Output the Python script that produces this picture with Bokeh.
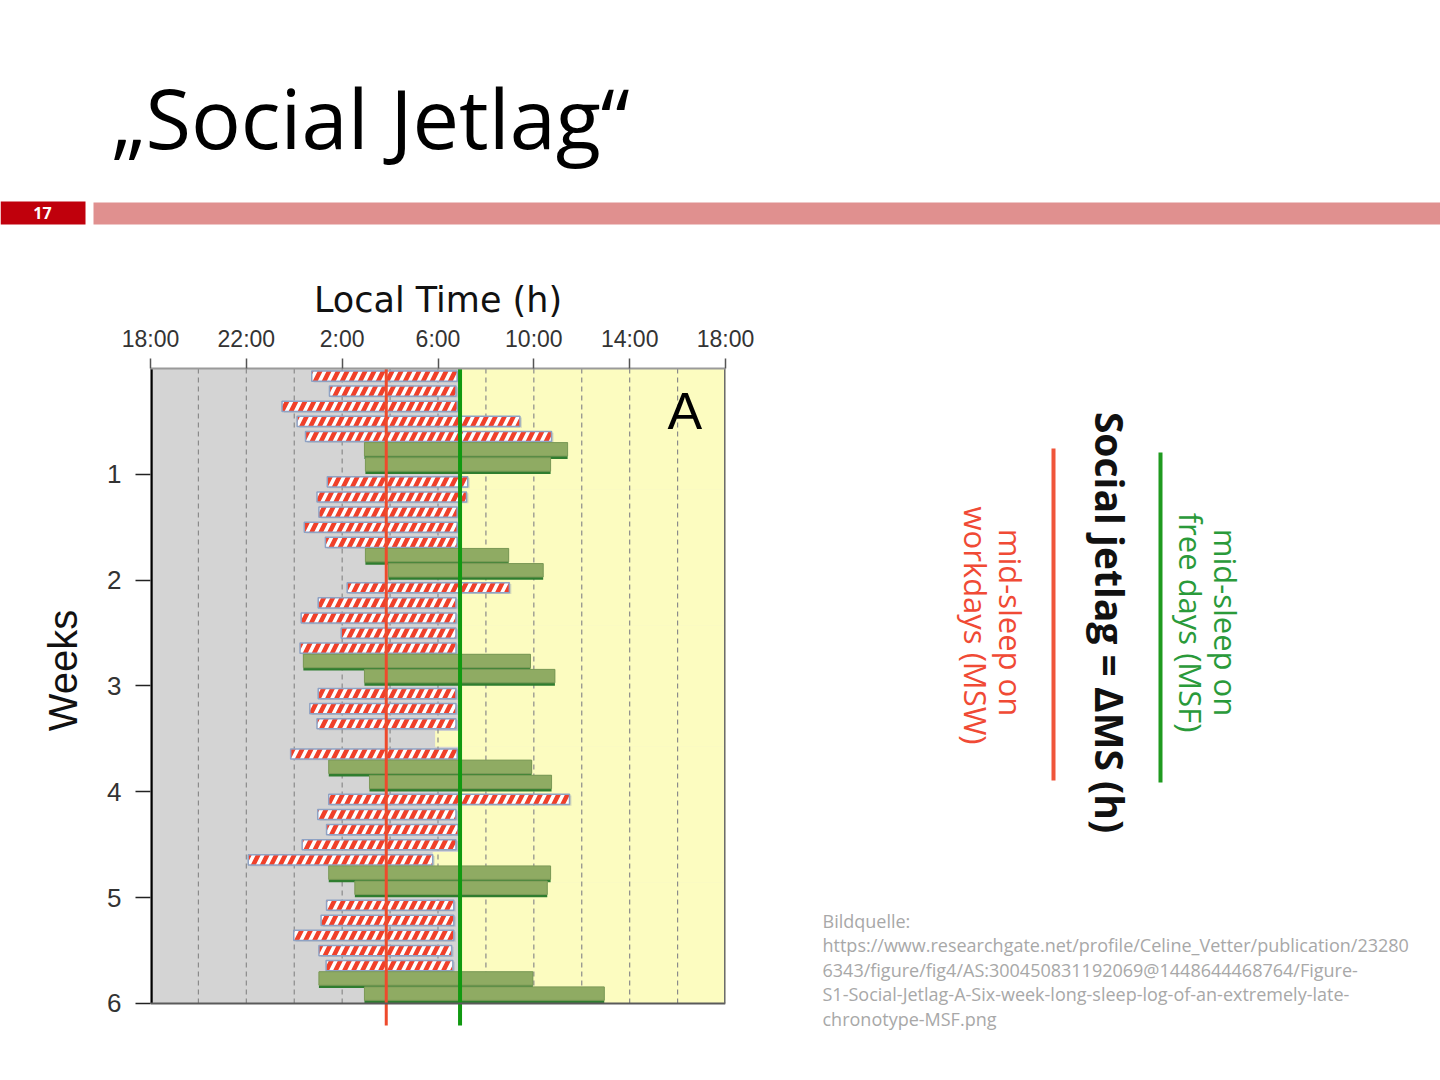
import math
from bokeh.plotting import figure
from bokeh.layouts import column, row
from bokeh.models import Range1d, FixedTicker, ColumnDataSource
from bokeh.core.properties import value
from bokeh.embed import file_html
from bokeh.resources import INLINE

# ---------------- data ----------------
day_type = ["W", "W", "W", "W", "W", "F", "F",
            "W", "W", "W", "W", "W", "F", "F",
            "W", "W", "W", "W", "W", "F", "F",
            "W", "W", "W", "W", "W", "F", "F",
            "W", "W", "W", "W", "W", "F", "F",
            "W", "W", "W", "W", "W", "F", "F"]
# sleep onset / offset as clock hours (None = no record)
sleep_onset = [0.73, 1.47, 23.49, 0.12, 0.47, 2.93, 2.97,
               1.38, 0.95, 1.03, 0.42, 1.30, 2.97, 3.93,
               2.21, 1.00, 0.29, 1.96, 0.24, 0.38, 2.93,
               1.00, 0.65, 0.95, None, 23.85, 1.44, 3.14,
               1.44, 0.98, 1.35, 0.33, 22.08, 1.44, 2.53,
               1.35, 1.12, 23.98, 1.03, 1.33, 1.03, 2.93]
sleep_offset = [6.80, 6.75, 6.80, 9.42, 10.74, 11.41, 10.70,
                7.24, 7.19, 6.80, 6.80, 6.80, 8.95, 10.39,
                8.98, 6.75, 6.75, 6.75, 6.75, 9.86, 10.88,
                6.75, 6.75, 6.75, None, 6.80, 9.91, 10.74,
                11.49, 6.75, 6.84, 6.75, 5.78, 10.70, 10.56,
                6.66, 6.66, 6.66, 6.57, 6.62, 9.96, 12.94]
# clock hour at which the light (yellow) period starts on each day
light_onset = [6.95, 6.95, 6.95, 6.95, 6.95, 6.95, 6.95,
               6.95, 6.95, 6.95, 6.95, 6.95, 6.95, 6.95,
               6.95, 6.95, 6.95, 6.95, 6.95, 6.95, 6.95,
               6.95, 6.95, 6.95, 5.88, 6.95, 6.95, 6.95,
               6.95, 6.95, 6.95, 6.95, 5.78, 6.95, 6.95,
               6.95, 6.95, 6.95, 6.95, 6.95, 6.95, 6.95]
msw = 3.84   # mid-sleep on workdays (clock h)
msf = 6.92   # mid-sleep on free days (clock h)

x_ticks = [18, 22, 26, 30, 34, 38, 42]
x_tick_labels = ["18:00", "22:00", "2:00", "6:00", "10:00", "14:00", "18:00"]
grid_hours = [20, 22, 24, 26, 28, 30, 32, 34, 36, 38, 40]
week_ticks = [1, 2, 3, 4, 5, 6]
n_weeks = 6

title_text = "\u201eSocial Jetlag\u201c"
page_no = "17"
formula_text = "Social jetlag = \u0394MS (h)"
msf_lines = ["mid-sleep on", "free days (MSF)"]
msw_lines = ["mid-sleep on", "workdays (MSW)"]
source_lines = ["Bildquelle:",
                "https://www.researchgate.net/profile/Celine_Vetter/publication/23280",
                "6343/figure/fig4/AS:300450831192069@1448644468764/Figure-",
                "S1-Social-Jetlag-A-Six-week-long-sleep-log-of-an-extremely-late-",
                "chronotype-MSF.png"]

# ---------------- helpers ----------------
def to_axis(h):
    return h + 24 if h < 18 else h

ROW = 1.0 / 7.0

# ---------------- header figure ----------------
W_TOTAL = 1440
H_HEAD = 260
head = figure(width=W_TOTAL, height=H_HEAD, x_range=Range1d(0, W_TOTAL),
              y_range=Range1d(H_HEAD, 0), output_backend="svg",
              toolbar_location=None, min_border=0)
head.axis.visible = False
head.grid.visible = False
head.outline_line_color = None
head.quad(left=[0], right=[85], top=[201], bottom=[224], color="#c0000c", line_color=None)
head.quad(left=[93], right=[W_TOTAL], top=[202], bottom=[224], color="#e0908f", line_color=None)
head.text(x=[42], y=[212], text=[page_no], text_color="white", text_font=value("Open Sans"),
          text_font_size="16px", text_font_style="bold", text_align="center", text_baseline="middle")
head.text(x=[111], y=[116], text=[title_text], text_color="black", text_font=value("Open Sans"),
          text_font_size="83px", text_align="left", text_baseline="alphabetic")

# ---------------- layout geometry ----------------
WK_W = 100         # strip holding the "Weeks" title
CH_W = 700         # chart figure
CH_H = 810
B_TOP, B_BOT = 108, 20
PX_PER_WEEK = 105.83
frame_top = H_HEAD + B_TOP
frame_bot = H_HEAD + CH_H - B_BOT
y_end = (frame_bot - frame_top) / PX_PER_WEEK
line_end = 6.208   # mid-sleep lines run slightly below the last week

# ---------------- "Weeks" strip ----------------
wk = figure(width=WK_W, height=CH_H, x_range=Range1d(0, WK_W),
            y_range=Range1d(frame_bot, frame_top), output_backend="svg",
            toolbar_location=None, min_border_left=0, min_border_right=0,
            min_border_top=B_TOP, min_border_bottom=B_BOT)
wk.axis.visible = False
wk.grid.visible = False
wk.outline_line_color = None
wk.text(x=[62], y=[670], text=["Weeks"], angle=math.pi / 2, text_font=value("Liberation Sans"),
        text_font_size="40px", text_color="#111111", text_align="center", text_baseline="middle")

# ---------------- chart figure ----------------
p = figure(width=CH_W, height=CH_H, x_range=Range1d(18, 42), y_range=Range1d(y_end, 0),
           x_axis_location="above", y_axis_location="left",
           output_backend="svg", toolbar_location=None,
           min_border_left=150 - WK_W, min_border_right=75, min_border_top=B_TOP,
           min_border_bottom=B_BOT)
p.grid.visible = False
p.outline_line_color = None
p.background_fill_color = "white"

xa = p.xaxis[0]
xa.ticker = FixedTicker(ticks=x_ticks)
xa.major_label_overrides = {t: lab for t, lab in zip(x_ticks, x_tick_labels)}
xa.minor_tick_line_color = None
xa.major_tick_in = 0
xa.major_tick_out = 10
xa.major_tick_line_color = "#555555"
xa.major_tick_line_width = 1.5
xa.axis_line_color = "#9a9a9a"
xa.axis_line_width = 2
xa.major_label_text_font = "Liberation Sans"
xa.major_label_text_font_size = "23px"
xa.major_label_text_color = "#333333"
xa.major_label_standoff = 7
xa.axis_label = "Local Time (h)"
xa.axis_label_text_font = "DejaVu Sans"
xa.axis_label_text_font_size = "35px"
xa.axis_label_text_font_style = "normal"
xa.axis_label_text_color = "#111111"
xa.axis_label_standoff = 3

ya = p.yaxis[0]
ya.ticker = FixedTicker(ticks=week_ticks)
ya.minor_tick_line_color = None
ya.major_tick_in = 0
ya.major_tick_out = 15
ya.major_tick_line_color = "#222222"
ya.major_tick_line_width = 1.5
ya.axis_line_color = None
ya.major_label_text_font = "Liberation Sans"
ya.major_label_text_font_size = "26px"
ya.major_label_text_color = "#333333"
ya.major_label_standoff = 14

# background: grey night, yellow day
p.quad(left=[18], right=[42], top=[0], bottom=[n_weeks], color="#d4d4d4", line_color=None)
yl = [to_axis(h) for h in light_onset]
ytop = [d * ROW - 0.003 for d in range(42)]
ybot = [(d + 1) * ROW + 0.003 for d in range(42)]
ybot[-1] = n_weeks
ytop[0] = 0
p.quad(left=yl, right=[42] * 42, top=ytop, bottom=ybot, color="#fcfcc0", line_color=None)

# dashed grid
p.segment(x0=grid_hours, x1=grid_hours, y0=[0] * len(grid_hours), y1=[n_weeks] * len(grid_hours),
          line_color="#8a8a8a", line_width=1.2, line_dash="5 4")

# bars
w_src = dict(l=[], r=[], t=[], b=[])
f_src = dict(l=[], r=[], t=[], b=[], bl=[])
for d in range(42):
    if sleep_onset[d] is None:
        continue
    l = to_axis(sleep_onset[d])
    r = to_axis(sleep_offset[d])
    c = (d + 0.5) * ROW
    if day_type[d] == "W":
        w_src["l"].append(l); w_src["r"].append(r)
        w_src["t"].append(c - 0.048); w_src["b"].append(c + 0.048)
    else:
        f_src["l"].append(l); f_src["r"].append(r)
        f_src["t"].append(d * ROW - 0.014); f_src["b"].append((d + 1) * ROW - 0.03)
        f_src["bl"].append((d + 1) * ROW - 0.003)

ws = ColumnDataSource(w_src)
fs = ColumnDataSource(f_src)
# shadows
p.quad(left="l", right="r", top="t", bottom="b", source=ColumnDataSource(dict(
    l=[v + 0.08 for v in w_src["l"]], r=[v + 0.08 for v in w_src["r"]],
    t=[v + 0.012 for v in w_src["t"]], b=[v + 0.012 for v in w_src["b"]])),
    fill_color="#9098a8", fill_alpha=0.35, line_color=None)
p.quad(left="l", right="r", top="t", bottom="b", source=ws,
       fill_color="white", hatch_pattern="right_diagonal_line", hatch_color="#f0402a",
       hatch_weight=4.5, hatch_scale=18, line_color="#8ea2c4", line_width=1.5)
p.quad(left="l", right="r", top="t", bottom="bl", source=fs,
       fill_color="#2f7d2f", line_color=None)
p.quad(left="l", right="r", top="t", bottom="b", source=fs,
       fill_color="#8fab63", line_color="#7d9a58", line_width=1)

# mid-sleep lines
p.segment(x0=[to_axis(msw)], x1=[to_axis(msw)], y0=[0], y1=[line_end], line_color="#ee4a2c", line_width=3)
p.segment(x0=[to_axis(msf)], x1=[to_axis(msf)], y0=[0], y1=[line_end], line_color="#119911", line_width=4)

# frame borders
p.segment(x0=[18.03], x1=[18.03], y0=[0], y1=[n_weeks], line_color="black", line_width=3)
p.segment(x0=[18], x1=[42], y0=[n_weeks], y1=[n_weeks], line_color="#5a5a5a", line_width=2)
p.segment(x0=[41.98], x1=[41.98], y0=[0], y1=[n_weeks], line_color="#6a6a6a", line_width=2)

p.text(x=[40.3], y=[0.40], text=["A"], text_font=value("Liberation Sans"), text_font_size="52px",
       text_color="black", text_align="center", text_baseline="middle")

# ---------------- right figure ----------------
RW = W_TOTAL - WK_W - CH_W
x0_rf = WK_W + CH_W
rf = figure(width=RW, height=CH_H, x_range=Range1d(x0_rf, x0_rf + RW),
            y_range=Range1d(frame_bot, frame_top), output_backend="svg",
            toolbar_location=None, min_border_left=0, min_border_right=0,
            min_border_top=B_TOP, min_border_bottom=B_BOT)
rf.axis.visible = False
rf.grid.visible = False
rf.outline_line_color = None

rot = -math.pi / 2
rf.text(x=[1110], y=[622], text=[formula_text], angle=rot, text_font=value("Open Sans"),
        text_font_size="39px", text_font_style="bold", text_color="#111111",
        text_align="center", text_baseline="middle")
rf.segment(x0=[1160], x1=[1160], y0=[452], y1=[782], line_color="#1f9a1f", line_width=4)
rf.segment(x0=[1053], x1=[1053], y0=[448], y1=[780], line_color="#f0553a", line_width=4)
rf.text(x=[1225, 1190], y=[622, 622], text=msf_lines, angle=rot, text_font=value("Open Sans"),
        text_font_size="31px", text_color="#2a9a3a", text_align="center", text_baseline="middle")
rf.text(x=[1010, 975], y=[622, 625], text=msw_lines, angle=rot, text_font=value("Open Sans"),
        text_font_size="31px", text_color="#f04a35", text_align="center", text_baseline="middle")
rf.text(x=[822] * len(source_lines), y=[920, 944.5, 969, 993.5, 1018], text=source_lines,
        text_font=value("Open Sans"), text_font_size="18px", text_color="#a8a8a8",
        text_align="left", text_baseline="middle")

layout = column(head, row(wk, p, rf, spacing=0), spacing=0)
open("out.html", "w").write(file_html(layout, INLINE))
